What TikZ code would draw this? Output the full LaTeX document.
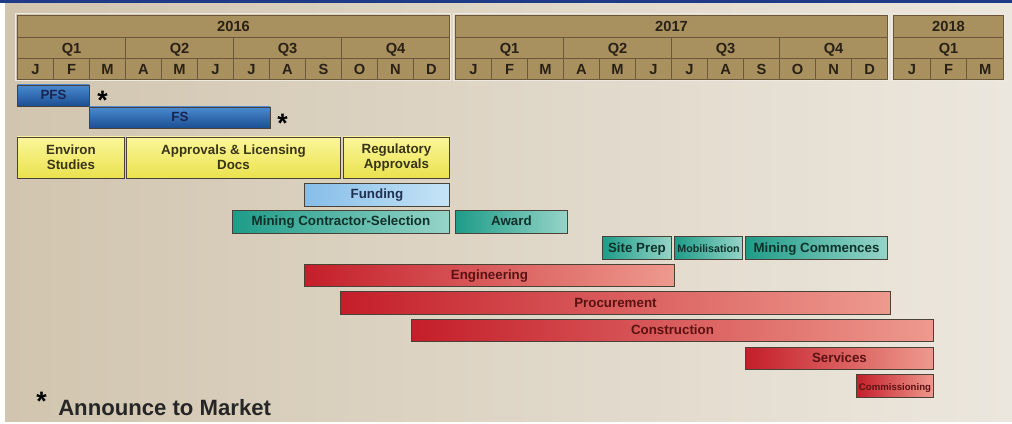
\documentclass[tikz,border=0pt]{standalone}
\usepackage{fontspec}
\setmainfont{Liberation Sans}
\definecolor{bgleft}{HTML}{D1C5AF}
\definecolor{bgright}{HTML}{ECE7DE}
\definecolor{topline}{HTML}{1F3A86}
\definecolor{hdrfill}{HTML}{A8915F}
\definecolor{hdrline}{HTML}{6B583A}
\definecolor{hdrhi}{HTML}{EEEAE2}
\definecolor{hdrtext}{HTML}{2A2116}
\definecolor{barline}{HTML}{4A4238}
\definecolor{bluetop}{HTML}{4A8AD0}
\definecolor{bluebot}{HTML}{1B4F91}
\definecolor{bluetext}{HTML}{1A2450}
\definecolor{yellowtop}{HTML}{FBF69A}
\definecolor{yellowbot}{HTML}{EAE24E}
\definecolor{yellowtext}{HTML}{3A3418}
\definecolor{fundleft}{HTML}{86BDE8}
\definecolor{fundright}{HTML}{C6E4F6}
\definecolor{fundtext}{HTML}{1F3050}
\definecolor{tealleft}{HTML}{1E9C88}
\definecolor{tealright}{HTML}{96D4C8}
\definecolor{tealtext}{HTML}{10302A}
\definecolor{redleft}{HTML}{C41E2A}
\definecolor{redright}{HTML}{EE9A8E}
\definecolor{redtext}{HTML}{5A1212}

\tikzset{
  hdrcell/.style={draw=hdrline, fill=hdrfill, line width=0.8pt, inner sep=0pt, anchor=north west, text=hdrtext, text height=8pt, text depth=0pt, font=\bfseries\fontsize{11}{12}\selectfont},
  bar/.style={draw=barline, line width=0.7pt, inner sep=0pt, anchor=west, align=center, font=\bfseries\fontsize{10}{11.5}\selectfont},
  onerow/.style={text height=7.5pt, text depth=1pt},
  bluebar/.style={bar, onerow, top color=bluetop, bottom color=bluebot, text=bluetext, minimum height=15.75pt},
  yellowbar/.style={bar, top color=yellowtop, bottom color=yellowbot, text=yellowtext, minimum height=30.75pt},
  fundbar/.style={bar, onerow, left color=fundleft, right color=fundright, text=fundtext, minimum height=17.25pt},
  tealbar/.style={bar, onerow, left color=tealleft, right color=tealright, text=tealtext, minimum height=17.25pt},
  redbar/.style={bar, onerow, left color=redleft, right color=redright, text=redtext, minimum height=17pt},
  starmark/.style={inner sep=0pt, font=\bfseries\fontsize{20}{20}\selectfont}
}

\begin{document}
\begin{tikzpicture}[x=0.75pt,y=0.75pt,yscale=-1,xscale=1]
\useasboundingbox (0,0) rectangle (1012,424);

%Shape: Background
\fill[white] (0,0) rectangle (1012,424);
\shade[left color=bgleft, right color=bgright] (5,3) rectangle (1012,421);
\fill[topline] (0,0) rectangle (1012,3.5);

%Header: years, quarters, months
\foreach \yr/\x/\nq/\w in {2016/17/4/36, 2017/455/4/36, 2018/893/1/36.67}{
  \pgfmathsetmacro\blockw{\nq*3*\w}
  \draw[hdrhi, line width=1.2pt] (\x-1.5,13.5) rectangle (\x+\blockw+1.5,80.5);
  \node[hdrcell, minimum width=\blockw*0.75pt, minimum height=16.5pt] (y\yr) at (\x,15) {\yr};
  \foreach \q in {1,...,\nq}
    \node[hdrcell, minimum width=3*\w*0.75pt, minimum height=15.75pt] (q\yr-\q) at ({\x+(\q-1)*3*\w},37) {Q\q};
  \foreach \ml [count=\i from 0] in {J,F,M,A,M,J,J,A,S,O,N,D}{
    \ifnum\i<\numexpr3*\nq\relax
      \node[hdrcell, minimum width=\w*0.75pt, minimum height=15.75pt] (m\yr-\i) at ({\x+\i*\w},58) {\ml};
    \fi
  }
}

%Bars: studies
\node[bluebar, minimum width=72*0.75pt] (pfs) at (17,95.5) {PFS};
\node[bluebar, minimum width=181*0.75pt] (fs) at (89,117.5) {FS};
% Text Node
\node[starmark, anchor=west] (pfsstar) at (97,100) {*};
\node[starmark, anchor=west] (fsstar) at (277,123) {*};

%Bars: approvals
\node[yellowbar, minimum width=107*0.75pt] (environ) at (17,157.5) {Environ\\Studies};
\node[yellowbar, minimum width=214*0.75pt] (licensing) at (126,157.5) {Approvals \& Licensing\\Docs};
\node[yellowbar, minimum width=106*0.75pt] (regulatory) at (343,157.5) {Regulatory\\Approvals};

%Bars: funding and contracting
\node[fundbar, minimum width=145*0.75pt] (funding) at (304,194.5) {Funding};
\node[tealbar, minimum width=217*0.75pt] (contractor) at (232,221.5) {Mining Contractor-Selection};
\node[tealbar, minimum width=112*0.75pt] (award) at (455,221.5) {Award};
\node[tealbar, minimum width=69*0.75pt] (siteprep) at (602,248) {Site Prep};
\node[tealbar, minimum width=68*0.75pt, font=\bfseries\fontsize{8}{9}\selectfont] (mobilisation) at (674,248) {Mobilisation};
\node[tealbar, minimum width=142*0.75pt] (commences) at (745,248) {Mining Commences};

%Bars: project delivery
\node[redbar, minimum width=370*0.75pt] (engineering) at (304,275.5) {Engineering};
\node[redbar, minimum width=550*0.75pt] (procurement) at (340,303) {Procurement};
\node[redbar, minimum width=522*0.75pt] (construction) at (411,330.5) {Construction};
\node[redbar, minimum width=188*0.75pt] (services) at (745,358.5) {Services};
\node[redbar, minimum width=77*0.75pt, font=\bfseries\fontsize{7.2}{8}\selectfont] (commissioning) at (856,386) {Commissioning};

%Legend
\node[starmark, anchor=west] (legendstar) at (36,401) {*};
\node[anchor=west, inner sep=0pt, font=\bfseries\fontsize{16.6}{18}\selectfont, text=black!85] (announce) at (58,408) {Announce to Market};

\end{tikzpicture}
\end{document}
